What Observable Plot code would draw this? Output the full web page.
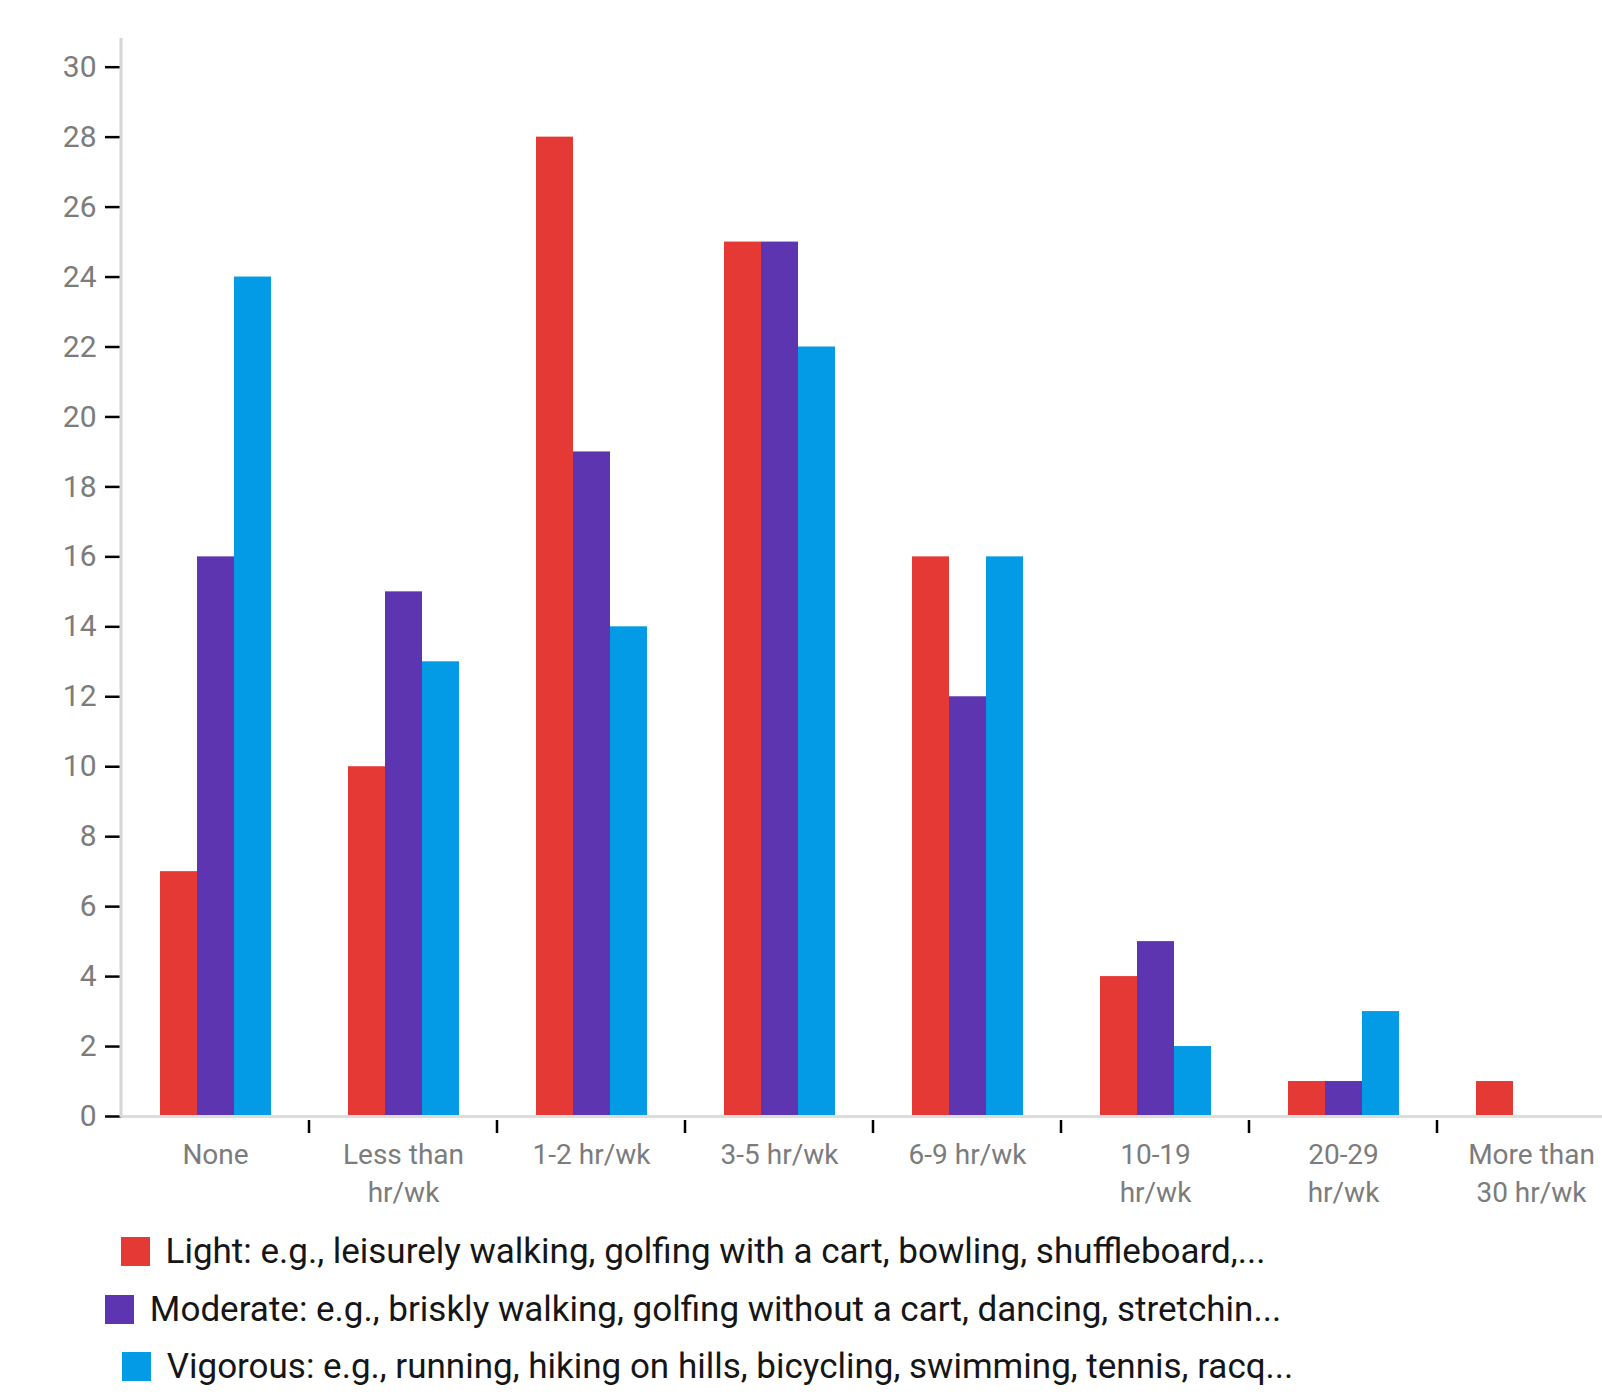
<!DOCTYPE html>
<html>
<head>
<meta charset="utf-8">
<script src="https://cdn.jsdelivr.net/npm/d3@7"></script>
<script src="https://cdn.jsdelivr.net/npm/@observablehq/plot@0.6"></script>
<style>
  html, body { margin: 0; padding: 0; background: #fff; overflow: hidden; }
  body { font-family: Roboto, "Noto Sans", sans-serif; }
  #chart svg { max-width: none !important; display: block; }
  #legend { width: 1386px; margin-top: 7px; }
  .row { display: flex; justify-content: center; align-items: center; height: 57.5px; font-size: 35px; color: #161616; }
  .row.shift { padding-left: 29px; }
  .sw { width: 29px; height: 29px; margin-right: 16px; flex: none; }
</style>
</head>
<body>
<div id="chart"></div>
<div id="legend"></div>
<script>
const categories = ["None", "Less than\nhr/wk", "1-2 hr/wk", "3-5 hr/wk", "6-9 hr/wk", "10-19\nhr/wk", "20-29\nhr/wk", "More than\n30 hr/wk"];
const series = ["Light", "Moderate", "Vigorous"];
const light    = [7, 10, 28, 25, 16, 4, 1, 1];
const moderate = [16, 15, 19, 25, 12, 5, 1, 0];
const vigorous = [24, 13, 14, 22, 16, 2, 3, 0];
const yTicks = [0, 2, 4, 6, 8, 10, 12, 14, 16, 18, 20, 22, 24, 26, 28, 30];
const legendLabels = [
  "Light: e.g., leisurely walking, golfing with a cart, bowling, shuffleboard,...",
  "Moderate: e.g., briskly walking, golfing without a cart, dancing, stretchin...",
  "Vigorous: e.g., running, hiking on hills, bicycling, swimming, tennis, racq..."
];
const colors = ["#E53935", "#5E35B1", "#039BE5"];

const valuesBySeries = [light, moderate, vigorous];
const table = categories.flatMap((c, i) => series.map((s, j) => ({category: c, series: s, value: valuesBySeries[j][i]})));

const plot = Plot.plot({
  width: 1640,
  height: 1216,
  marginLeft: 119,
  marginRight: 13,
  marginTop: 38,
  marginBottom: 100,
  style: {fontFamily: 'Roboto, "Noto Sans", sans-serif', background: "#fff"},
  fx: {domain: categories, padding: 0, label: null},
  x: {domain: series, paddingInner: 0, paddingOuter: 1, axis: null},
  y: {domain: [0, 30.82], label: null},
  color: {domain: series, range: colors},
  marks: [
    Plot.barY(table, {fx: "category", x: "series", y: "value", fill: "series"}),
    Plot.ruleY([0], {stroke: "#dcdcdc", strokeWidth: 3}),
    Plot.axisY({ticks: yTicks, tickSize: 16, tickPadding: 9, stroke: "#000", strokeWidth: 2.5, fill: "#7c7c7c", fontSize: 30, label: null}),
    Plot.axisFx({anchor: "bottom", tickSize: 0, tickPadding: 20, fill: "#7c7c7c", fontSize: 28, lineHeight: 1.36, label: null})
  ]
});
document.getElementById("chart").appendChild(plot);

// axis line and category boundary ticks, placed with the plot's own scales
const fx = plot.scale("fx");
const y = plot.scale("y");
const svg = d3.select(plot);
const x0 = fx.apply(categories[0]);
svg.append("line")
  .attr("x1", x0).attr("x2", x0)
  .attr("y1", y.apply(y.domain[1])).attr("y2", y.apply(0) + 1.5)
  .attr("stroke", "#d6d6d6").attr("stroke-width", 3);
categories.slice(1).forEach(c => {
  const bx = fx.apply(c);
  svg.append("line")
    .attr("x1", bx).attr("x2", bx)
    .attr("y1", y.apply(0) + 4).attr("y2", y.apply(0) + 17)
    .attr("stroke", "#000").attr("stroke-width", 2.5);
});

const legend = d3.select("#legend");
legendLabels.forEach((t, i) => {
  const row = legend.append("div").attr("class", i === 2 ? "row shift" : "row");
  row.append("div").attr("class", "sw").style("background", colors[i]);
  row.append("span").text(t);
});
</script>
</body>
</html>
